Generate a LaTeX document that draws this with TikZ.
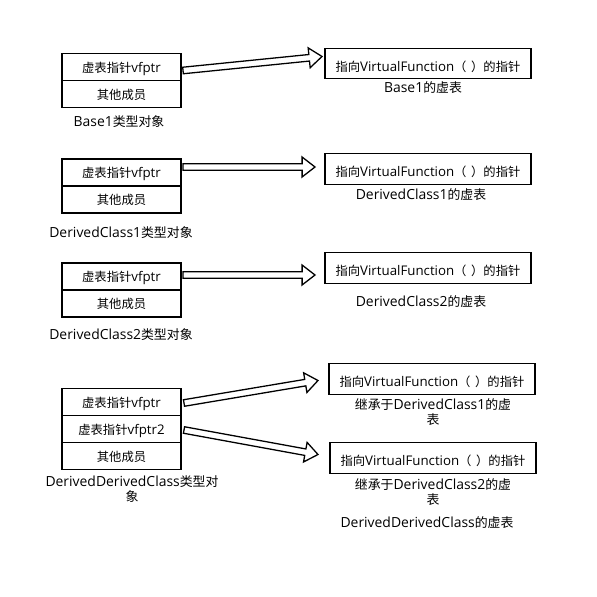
\documentclass[tikz,border=0pt]{standalone}
\usepackage{fontspec}
\setmainfont{Open Sans}[Scale=1.08]
\newfontfamily\cjk{Noto Sans CJK SC}
\newcommand{\zh}[1]{{\cjk #1}}
\usetikzlibrary{calc,positioning}

\tikzset{
  cell/.style={draw, line width=1.1pt, minimum width=3.57cm, minimum height=0.81cm,
    text height=1.1em, text depth=0.25em, outer sep=0pt},
  vtable/.style={draw, line width=1.1pt, minimum width=6.18cm, minimum height=0.84cm,
    text height=1.5em, text depth=0.25em, outer sep=0pt},
  caption/.style={align=center, inner sep=0pt, font=\fontsize{11}{12.75}\selectfont},
  hollow/.style={draw, line width=1.1pt, fill=white, line join=miter},
}

% hollow block arrow between two named points
\newcommand{\fatarrow}[2]{%
  \draw[hollow] let \p1=(#1), \p2=(#2),
    \n1={atan2(\y2-\y1,\x2-\x1)}, \n2={veclen(\x2-\x1,\y2-\y1)} in
    [shift={(\p1)}, rotate=\n1]
    (0pt,-2.8pt) -- (\n2-11pt,-2.8pt) -- (\n2-11pt,-8.5pt) -- (\n2,0pt)
    -- (\n2-11pt,8.5pt) -- (\n2-11pt,2.8pt) -- (0pt,2.8pt) -- cycle;}

\newcommand{\vfunc}{\zh{指向}VirtualFunction\zh{（}\hspace{0.35em}\zh{）的指针}}

\begin{document}
\begin{tikzpicture}[x=0.03cm, y=-0.03cm, font=\fontsize{10.5}{12.75}\selectfont]
  \useasboundingbox (0,0) rectangle (597,597);

  % Base1
  \node[cell] (ptrA) at (121.5,67) {\zh{虚表指针}vfptr};
  \node[cell, below=0pt of ptrA] (restA) {\zh{其他成员}};
  \node[caption] (objA) at (119,122) {Base1\zh{类型对象}};
  \node[vtable] (tabA) at (428,63.5) {\vfunc};
  \node[caption] (capA) at (423,88) {Base1\zh{的虚表}};
  \coordinate (a1s) at (183,70.5);
  \coordinate (a1e) at (322,56.5);
  \fatarrow{a1s}{a1e}

  % DerivedClass1
  \node[cell] (ptrB) at (121.5,172.5) {\zh{虚表指针}vfptr};
  \node[cell, below=0pt of ptrB] (restB) {\zh{其他成员}};
  \node[caption] (objB) at (121,233) {DerivedClass1\zh{类型对象}};
  \node[vtable] (tabB) at (428,169) {\vfunc};
  \node[caption] (capB) at (421,195) {DerivedClass1\zh{的虚表}};
  \coordinate (a2s) at (183,167);
  \coordinate (a2e) at (315,167);
  \fatarrow{a2s}{a2e}

  % DerivedClass2
  \node[cell] (ptrC) at (121.5,276.5) {\zh{虚表指针}vfptr};
  \node[cell, below=0pt of ptrC] (restC) {\zh{其他成员}};
  \node[caption] (objC) at (121,335) {DerivedClass2\zh{类型对象}};
  \node[vtable] (tabC) at (428,268) {\vfunc};
  \node[caption] (capC) at (421,302) {DerivedClass2\zh{的虚表}};
  \coordinate (a3s) at (183,275);
  \coordinate (a3e) at (315,275);
  \fatarrow{a3s}{a3e}

  % DerivedDerivedClass
  \node[cell] (ptrD) at (121.5,402) {\zh{虚表指针}vfptr};
  \node[cell, below=0pt of ptrD] (ptrE) {\zh{虚表指针}vfptr2};
  \node[cell, below=0pt of ptrE] (restD) {\zh{其他成员}};
  \node[caption] (objD) at (132,489.5) {DerivedDerivedClass\zh{类型对}\\\zh{象}};
  \node[vtable] (tabD) at (432,379) {\vfunc};
  \node[caption] (capD) at (433,412.5) {\zh{继承于}DerivedClass1\zh{的虚}\\\zh{表}};
  \node[vtable] (tabE) at (433,458) {\vfunc};
  \node[caption] (capE) at (433,492.5) {\zh{继承于}DerivedClass2\zh{的虚}\\\zh{表}};
  \node[caption] (capF) at (427,523) {DerivedDerivedClass\zh{的虚表}};
  \coordinate (a4s) at (184,403);
  \coordinate (a4e) at (318,380.5);
  \coordinate (a5s) at (184,430);
  \coordinate (a5e) at (318,454.5);
  \fatarrow{a4s}{a4e}
  \fatarrow{a5s}{a5e}
\end{tikzpicture}
\end{document}
